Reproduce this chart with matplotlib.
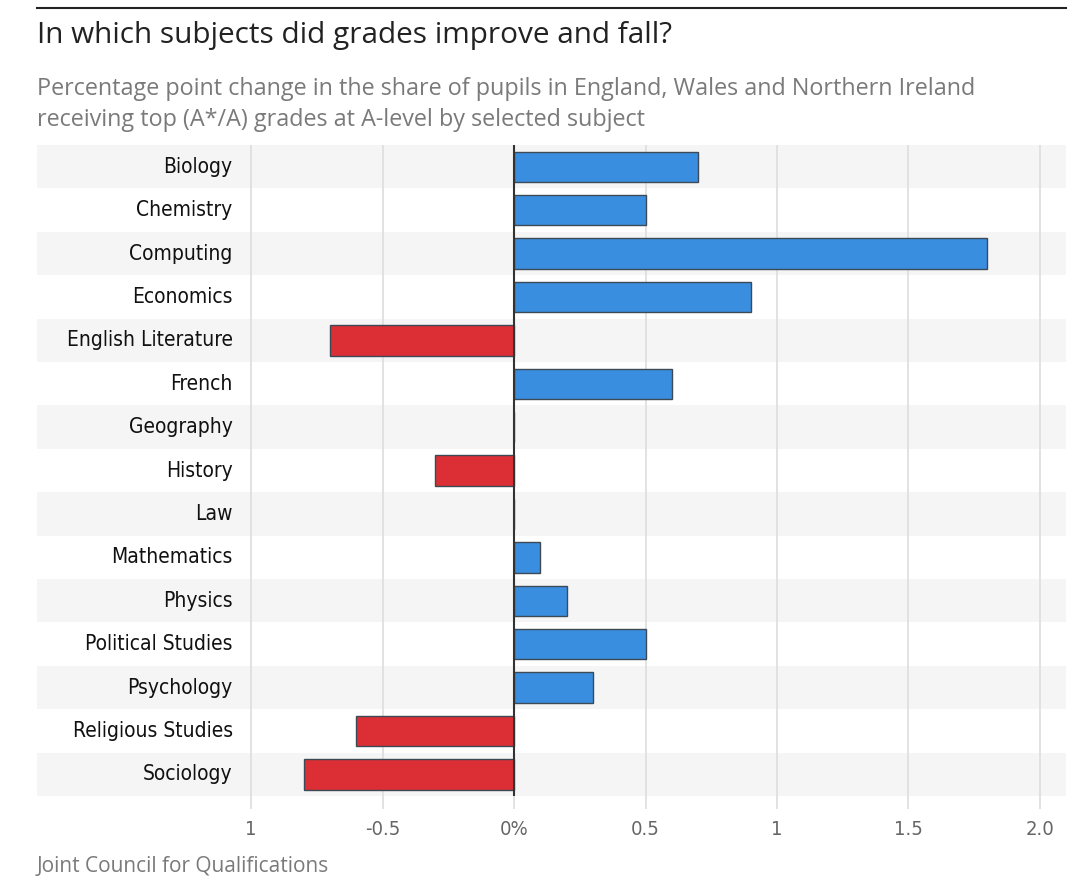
import matplotlib
matplotlib.use("Agg")
import matplotlib.pyplot as plt
from matplotlib import font_manager

# data
subjects = ["Biology", "Chemistry", "Computing", "Economics", "English Literature",
            "French", "Geography", "History", "Law", "Mathematics", "Physics",
            "Political Studies", "Psychology", "Religious Studies", "Sociology"]
changes = [0.7, 0.5, 1.8, 0.9, -0.7, 0.6, 0.0, -0.3, 0.0, 0.1, 0.2, 0.5, 0.3, -0.6, -0.8]
tick_vals = [-1, -0.5, 0, 0.5, 1, 1.5, 2.0]
tick_labels = ["1", "-0.5", "0%", "0.5", "1", "1.5", "2.0"]

blue = "#3a8ee0"
red = "#dc2f35"

# condensed face for the axis text if one is around
cond_path = font_manager.findfont(
    font_manager.FontProperties(family="DejaVu Sans", stretch="condensed"))
if "Condensed" in cond_path:
    lab_font = dict(family="DejaVu Sans", stretch="condensed")
else:
    lab_font = dict(family="Roboto", weight="medium")
head = "Open Sans"

fig = plt.figure(figsize=(10.8, 8.93), dpi=100)
ax = fig.add_axes([0.0343, 0.1086, 0.9527, 0.729])

n = len(subjects)
for i in range(n):
    if i % 2 == 0:
        ax.axhspan(i - 0.5, i + 0.5, color="#f5f5f5", lw=0, zorder=0)

for v in tick_vals:
    if v != 0:
        ax.axvline(v, color="#dddddd", lw=1.2, zorder=1)

colors = [blue if c >= 0 else red for c in changes]
ax.barh(range(n), changes, height=0.7, color=colors, edgecolor="#3d4a55",
        linewidth=1.0, zorder=2)
ax.axvline(0, color="#333333", lw=1.5, zorder=3)

for i, s in enumerate(subjects):
    ax.text(-1.07, i, s, ha="right", va="center", fontsize=15,
            color="#111111", **lab_font)

ax.set_xlim(-1.814, 2.099)
ax.set_ylim(n - 0.5, -0.5)
ax.set_yticks([])
ax.set_xticks(tick_vals)
ax.set_xticklabels(tick_labels, fontsize=14.5, color="#666666", **lab_font)
ax.tick_params(axis="x", length=9, width=1.2, color="#dddddd", pad=8)
for t, v in zip(ax.xaxis.get_major_ticks(), tick_vals):
    if v == 0:
        t.tick1line.set_color("#333333")
for sp in ax.spines.values():
    sp.set_visible(False)

fig.add_artist(plt.Line2D([0.0343, 0.987], [1 - 8 / 893, 1 - 8 / 893],
                          color="#222222", lw=1.5))
fig.text(0.0343, 1 - 36 / 893, "In which subjects did grades improve and fall?",
         fontsize=21.4, family=head, color="#222222", va="center")
fig.text(0.0343, 1 - 89 / 893,
         "Percentage point change in the share of pupils in England, Wales and Northern Ireland",
         fontsize=16.8, family=head, color="#7a7a7a", va="center")
fig.text(0.0343, 1 - 120 / 893,
         "receiving top (A*/A) grades at A-level by selected subject",
         fontsize=16.8, family=head, color="#7a7a7a", va="center")
fig.text(0.0343, 1 - 866 / 893, "Joint Council for Qualifications",
         fontsize=15, family=head, color="#7a7a7a", va="center")

fig.savefig("out.png", dpi=100)
